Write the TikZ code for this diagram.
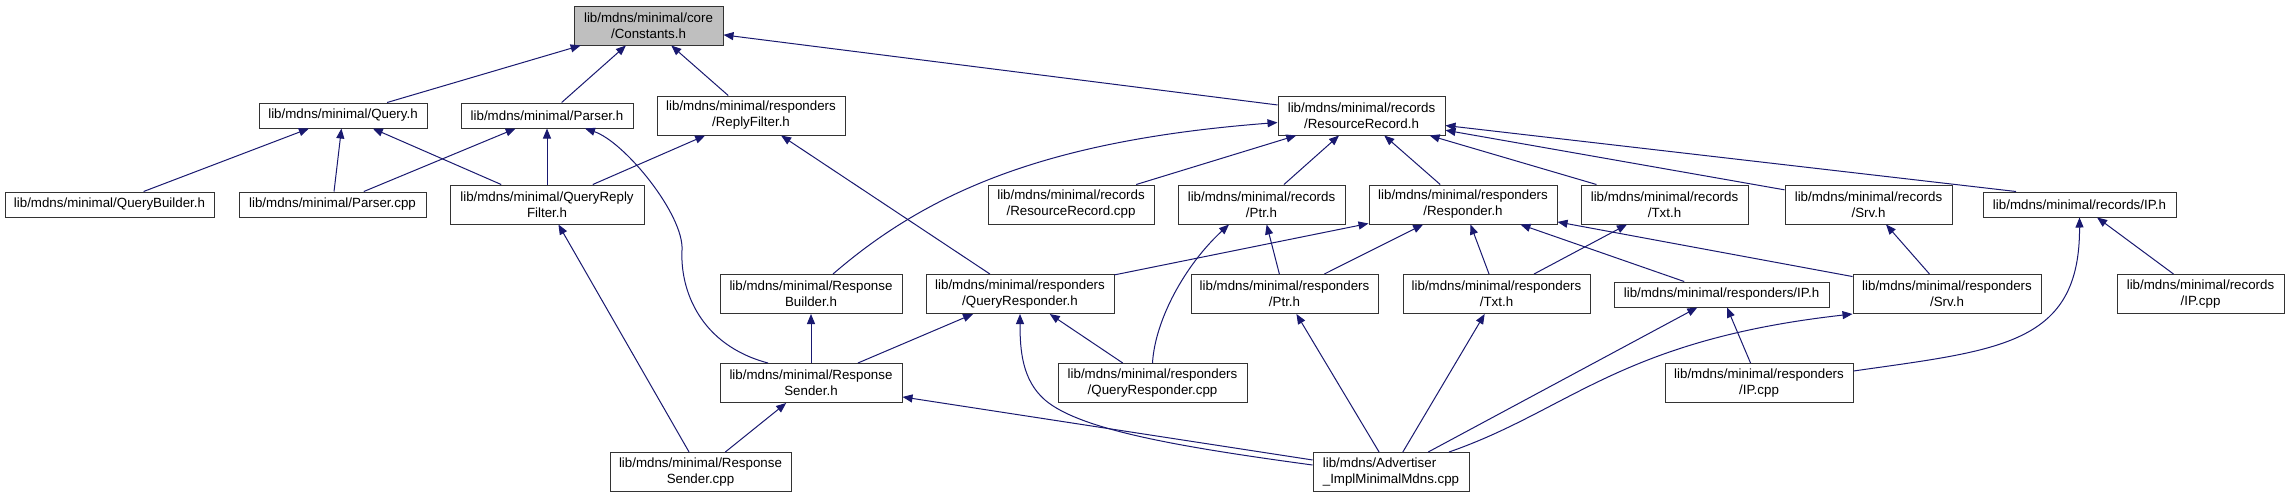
\documentclass[tikz,border=0pt]{standalone}
\usepackage{fontspec}
\setmainfont{Liberation Sans}
\usetikzlibrary{arrows.meta}
\definecolor{mblue}{HTML}{191970}
\definecolor{nodegray}{HTML}{BFBFBF}
\begin{document}
\begin{tikzpicture}[x=1pt,y=-1pt,
  box/.style={draw=black!80, line width=1pt, fill=white, inner sep=0pt,
    align=center, font=\fontsize{13.33}{16}\selectfont},
  one/.style={minimum height=25pt},
  two/.style={minimum height=39pt},
  dep/.style={draw=mblue, line width=1pt,
    -{Triangle[length=10pt,width=8pt,fill=mblue]}}]
\useasboundingbox (0,0) rectangle (2289,499);
\fill[white] (0,0) rectangle (2289,499);

% rank 0
\node[box,two,fill=nodegray,minimum width=149pt] (const) at (648.5,25.5) {lib/mdns/minimal/core\\/Constants.h};
% rank 1
\node[box,one,minimum width=168pt] (query) at (343,115.5) {lib/mdns/minimal/Query.h};
\node[box,one,minimum width=172pt] (parserh) at (547,115.5) {lib/mdns/minimal/Parser.h};
\node[box,two,minimum width=188pt] (replyfilter) at (751,115.5) {lib/mdns/minimal/responders\\/ReplyFilter.h};
\node[box,two,minimum width=167pt] (rrh) at (1361.5,115.5) {lib/mdns/minimal/records\\/ResourceRecord.h};
% rank 2
\node[box,one,minimum width=209pt] (querybuilder) at (109.5,204.5) {lib/mdns/minimal/QueryBuilder.h};
\node[box,one,minimum width=187pt] (parsercpp) at (332.5,204.5) {lib/mdns/minimal/Parser.cpp};
\node[box,two,minimum width=194pt] (qrfilter) at (547,204.5) {lib/mdns/minimal/QueryReply\\Filter.h};
\node[box,two,minimum width=166pt] (rrcpp) at (1071,204.5) {lib/mdns/minimal/records\\/ResourceRecord.cpp};
\node[box,two,minimum width=167pt] (recptr) at (1261.5,204.5) {lib/mdns/minimal/records\\/Ptr.h};
\node[box,two,minimum width=188pt] (responder) at (1463,204.5) {lib/mdns/minimal/responders\\/Responder.h};
\node[box,two,minimum width=167pt] (rectxt) at (1664.5,204.5) {lib/mdns/minimal/records\\/Txt.h};
\node[box,two,minimum width=167pt] (recsrv) at (1868.5,204.5) {lib/mdns/minimal/records\\/Srv.h};
\node[box,one,minimum width=193pt] (recip) at (2079.5,204.5) {lib/mdns/minimal/records/IP.h};
% rank 3
\node[box,two,minimum width=182pt] (respbuilder) at (811,294) {lib/mdns/minimal/Response\\Builder.h};
\node[box,two,minimum width=188pt] (queryresp) at (1020,294) {lib/mdns/minimal/responders\\/QueryResponder.h};
\node[box,two,minimum width=187pt] (respptr) at (1284.5,294) {lib/mdns/minimal/responders\\/Ptr.h};
\node[box,two,minimum width=187pt] (resptxt) at (1496.5,294) {lib/mdns/minimal/responders\\/Txt.h};
\node[box,one,minimum width=215pt] (respip) at (1721.5,294.5) {lib/mdns/minimal/responders/IP.h};
\node[box,two,minimum width=188pt] (respsrv) at (1947,294) {lib/mdns/minimal/responders\\/Srv.h};
\node[box,two,minimum width=167pt] (recipcpp) at (2200.5,294) {lib/mdns/minimal/records\\/IP.cpp};
% rank 4
\node[box,two,minimum width=182pt] (respsender) at (811,383) {lib/mdns/minimal/Response\\Sender.h};
\node[box,two,minimum width=189pt] (queryrespcpp) at (1152.5,383) {lib/mdns/minimal/responders\\/QueryResponder.cpp};
\node[box,two,minimum width=188pt] (respipcpp) at (1759,383) {lib/mdns/minimal/responders\\/IP.cpp};
% rank 5
\node[box,two,minimum width=181pt] (respsendercpp) at (700.5,472) {lib/mdns/minimal/Response\\Sender.cpp};
\node[box,two,minimum width=156pt,align=left] (advertiser) at (1391,472) {lib/mdns/Advertiser\\\_ImplMinimalMdns.cpp};

% edges to Constants
\draw[dep] (query) -- (const);
\draw[dep] (parserh) -- (const);
\draw[dep] (replyfilter) -- (const);
\draw[dep] (rrh) -- (const);
% edges to Query.h
\draw[dep] (querybuilder) -- (query);
\draw[dep] (parsercpp) -- (query);
\draw[dep] (qrfilter) -- (query);
% edges to Parser.h
\draw[dep] (parsercpp) -- (parserh);
\draw[dep] (qrfilter) -- (parserh);
\draw[dep] ([xshift=-43pt]respsender.north) .. controls (700,345) and (680,290) .. (682,250)
  .. controls (684,215) and (625,142) .. ([xshift=38pt]parserh.south);
% edges to ReplyFilter.h
\draw[dep] (qrfilter) -- (replyfilter);
\draw[dep] (queryresp) -- (replyfilter);
% edges to ResourceRecord.h
\draw[dep] ([xshift=22pt]respbuilder.north) .. controls (930,190) and (1050,140) .. ([yshift=-7pt]rrh.west);
\draw[dep] (rrcpp) -- (rrh);
\draw[dep] (recptr) -- (rrh);
\draw[dep] (responder) -- (rrh);
\draw[dep] (rectxt) -- (rrh);
\draw[dep] (recsrv) -- (rrh);
\draw[dep] ([xshift=-63.5pt]recip.north) -- ([yshift=-10pt]rrh.east);
% edges to records/Ptr.h
\draw[dep] (queryrespcpp.north) .. controls (1155,320) and (1185,265) .. ([xshift=-32.5pt]recptr.south);
\draw[dep] (respptr) -- (recptr);
% edges to Responder.h
\draw[dep] (queryresp) -- (responder);
\draw[dep] (respptr) -- (responder);
\draw[dep] (resptxt) -- (responder);
\draw[dep] (respip) -- (responder);
\draw[dep] (respsrv) -- (responder);
% records Txt / Srv / IP
\draw[dep] (resptxt) -- (rectxt);
\draw[dep] (respsrv) -- (recsrv);
\draw[dep] (recipcpp) -- (recip);
\draw[dep] ([yshift=12pt]respipcpp.east) .. controls (2000,350) and (2080,345) .. (recip.south);
% responders IP.h
\draw[dep] (respipcpp) -- (respip);
% Advertiser
\draw[dep] (advertiser) -- (respptr);
\draw[dep] (advertiser) -- (resptxt);
\draw[dep] (advertiser) -- (respip);
\draw[dep] ([xshift=58pt]advertiser.north) .. controls (1570,410) and (1620,340) .. (respsrv.south west);
\draw[dep] ([yshift=7pt]advertiser.west) .. controls (1180,447) and (1080,430) .. (1045,400)
  .. controls (1022,380) and (1020,350) .. (queryresp.south);
\draw[dep] (advertiser) -- (respsender);
% Response sender / builder
\draw[dep] (respsender) -- (respbuilder);
\draw[dep] (respsender) -- (queryresp);
\draw[dep] (queryrespcpp) -- (queryresp);
\draw[dep] (respsendercpp) -- (respsender);
\draw[dep] (respsendercpp) -- (qrfilter);
\end{tikzpicture}
\end{document}
